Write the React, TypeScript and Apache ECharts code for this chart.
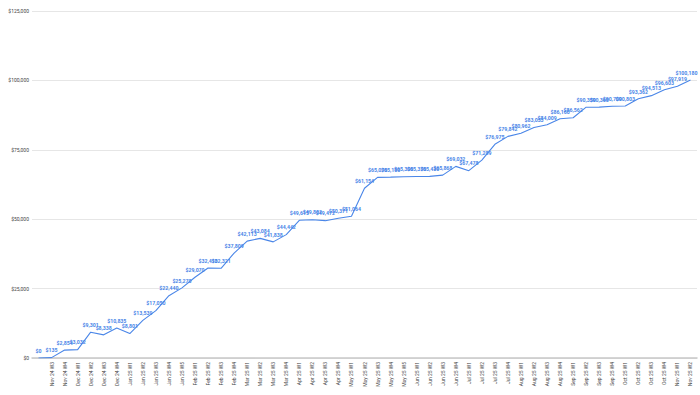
import React, { useEffect, useRef } from "react";
import * as echarts from "echarts";

const weeks: string[] = [
  "Nov 24 W2", "Nov 24 W3", "Nov 24 W4",
  "Dec 24 W1", "Dec 24 W2", "Dec 24 W3", "Dec 24 W4",
  "Jan 25 W1", "Jan 25 W2", "Jan 25 W3", "Jan 25 W4", "Jan 25 W5",
  "Feb 25 W1", "Feb 25 W2", "Feb 25 W3", "Feb 25 W4",
  "Mar 25 W1", "Mar 25 W2", "Mar 25 W3", "Mar 25 W4",
  "Apr 25 W1", "Apr 25 W2", "Apr 25 W3", "Apr 25 W4",
  "May 25 W1", "May 25 W2", "May 25 W3", "May 25 W4", "May 25 W5",
  "Jun 25 W1", "Jun 25 W2", "Jun 25 W3", "Jun 25 W4",
  "Jul 25 W1", "Jul 25 W2", "Jul 25 W3", "Jul 25 W4",
  "Aug 25 W1", "Aug 25 W2", "Aug 25 W3", "Aug 25 W4",
  "Sep 25 W1", "Sep 25 W2", "Sep 25 W3", "Sep 25 W4",
  "Oct 25 W1", "Oct 25 W2", "Oct 25 W3", "Oct 25 W4",
  "Nov 25 W1", "Nov 25 W2",
];

const cumulativeValues: number[] = [
  0, 135, 2854, 3032, 9301, 8338, 10835, 8801, 13539, 17050,
  22440, 25270, 29070, 32410, 32321, 37809, 42113, 43084, 41838, 44442,
  49615, 49802, 49472, 50371, 51064, 61154, 65070, 65150, 65300, 65370,
  65430, 65868, 69032, 67478, 71289, 76975, 79842, 80962, 83033, 84009,
  86160, 86562, 90350, 90360, 90700, 90803, 93362, 94513, 96603, 97919,
  100180,
];

const yTicks = { min: 0, max: 125000, interval: 25000 };

const fmt = (v: number) => "$" + Math.round(v).toLocaleString("en-US");

export default function App() {
  const ref = useRef<HTMLDivElement>(null);
  useEffect(() => {
    if (!ref.current) return;
    const chart = echarts.init(ref.current, undefined, { renderer: "svg" });
    const lastIdx = cumulativeValues.length - 1;
    chart.setOption({
      animation: false,
      backgroundColor: "#ffffff",
      textStyle: { fontFamily: "Roboto, Arial, sans-serif" },
      grid: { left: 32, right: 3, top: 11, bottom: 37, containLabel: false },
      xAxis: {
        type: "category",
        data: weeks,
        boundaryGap: true,
        axisLine: { lineStyle: { color: "#c8c8c8", width: 1.5 } },
        axisTick: { show: false },
        axisLabel: {
          interval: (i: number) => i > 0,
          rotate: 90,
          fontSize: 5,
          color: "#444444",
          margin: 4,
        },
      },
      yAxis: {
        type: "value",
        min: yTicks.min,
        max: yTicks.max,
        interval: yTicks.interval,
        axisLine: { show: false },
        axisTick: { show: false },
        splitLine: { lineStyle: { color: "#e6e6e6", width: 1 } },
        axisLabel: {
          fontSize: 5,
          color: "#444444",
          margin: 3,
          formatter: (v: number) => fmt(v),
        },
      },
      series: [
        {
          type: "line",
          data: cumulativeValues,
          showSymbol: true,
          symbol: "circle",
          symbolSize: 0.5,
          lineStyle: { color: "#4a86e8", width: 1.1 },
          itemStyle: { color: "rgba(0,0,0,0)", borderWidth: 0 },
          label: {
            show: true,
            position: "top",
            distance: 4.5,
            fontSize: 5.2,
            fontWeight: "bold",
            color: "#4a86e8",
            opacity: 1,
            formatter: (p: any) => fmt(p.value),
          },
          labelLayout: (params: any) =>
            params.dataIndex === lastIdx
              ? { hideOverlap: false, dx: -4 }
              : { hideOverlap: false },
        },
      ],
    });
    return () => chart.dispose();
  }, []);
  return (
    <div
      ref={ref}
      style={{ position: "fixed", left: 0, top: 0, width: 700, height: 395 }}
    />
  );
}
